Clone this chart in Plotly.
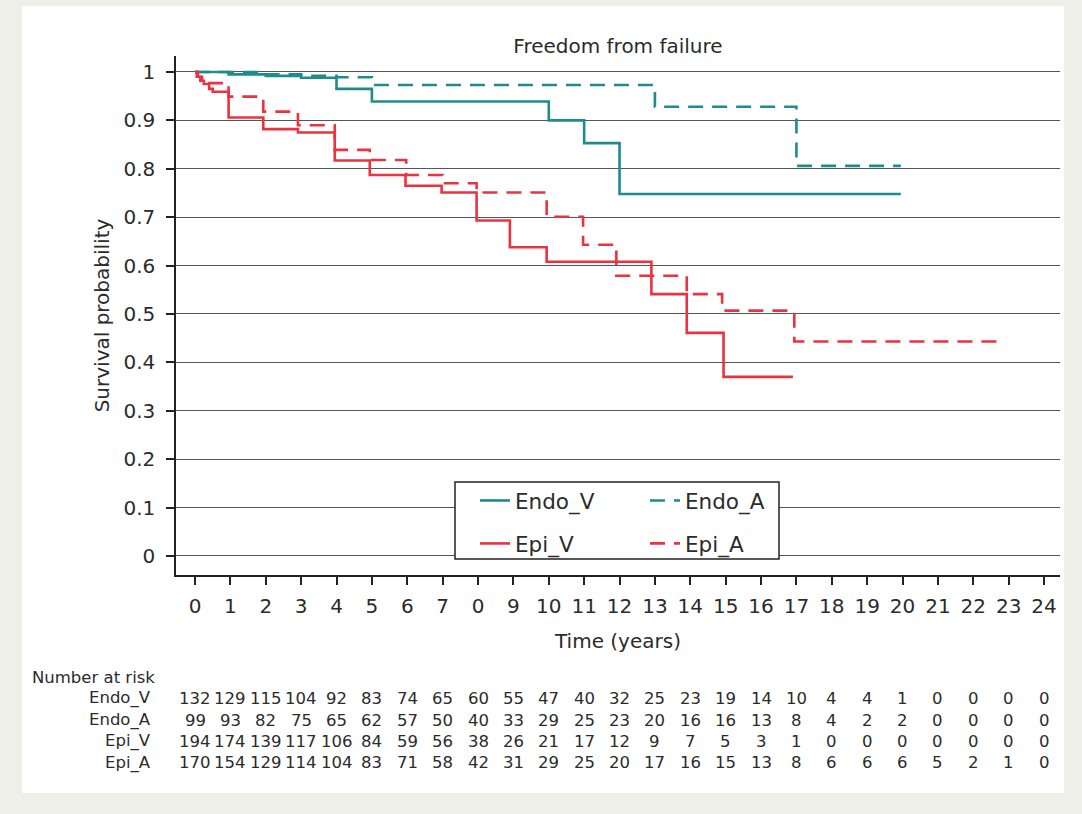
import plotly.graph_objects as go

# ---------------- data ----------------
endo_v_t = [0, 0.95, 2.0, 3.0, 4.0, 5.0, 10.0, 11.0, 12.0, 19.95]
endo_v_s = [1.0, 0.995, 0.992, 0.988, 0.965, 0.939, 0.900, 0.853, 0.748, 0.748]

endo_a_t = [0, 2.0, 3.0, 4.0, 5.0, 13.0, 17.0, 19.95]
endo_a_s = [1.0, 0.995, 0.992, 0.989, 0.973, 0.928, 0.806, 0.806]

epi_v_t = [0, 0.05, 0.15, 0.25, 0.4, 0.5, 0.95, 1.93, 2.91, 3.95, 4.94, 5.95,
           6.97, 7.96, 8.9, 9.94, 12.9, 13.9, 14.94, 16.9]
epi_v_s = [1.0, 0.99, 0.982, 0.975, 0.965, 0.959, 0.906, 0.882, 0.875, 0.817,
           0.787, 0.765, 0.751, 0.693, 0.638, 0.608, 0.541, 0.461, 0.370, 0.370]

epi_a_t = [0, 0.08, 0.2, 0.95, 1.93, 2.91, 3.95, 4.94, 5.97, 7.0, 7.96, 9.94,
           10.97, 11.91, 13.9, 14.9, 16.94, 22.75]
epi_a_s = [1.0, 0.99, 0.977, 0.949, 0.918, 0.890, 0.839, 0.818, 0.787, 0.770,
           0.751, 0.701, 0.643, 0.579, 0.541, 0.507, 0.443, 0.443]

x_tick_vals = list(range(25))
x_tick_labels = ["0", "1", "2", "3", "4", "5", "6", "7", "0", "9", "10", "11", "12",
                 "13", "14", "15", "16", "17", "18", "19", "20", "21", "22", "23", "24"]
y_tick_vals = [0, 0.1, 0.2, 0.3, 0.4, 0.5, 0.6, 0.7, 0.8, 0.9, 1.0]
y_tick_labels = ["0", "0.1", "0.2", "0.3", "0.4", "0.5", "0.6", "0.7", "0.8", "0.9", "1"]

risk_groups = ["Endo_V", "Endo_A", "Epi_V", "Epi_A"]
risk_endo_v = [132, 129, 115, 104, 92, 83, 74, 65, 60, 55, 47, 40, 32, 25, 23, 19, 14, 10, 4, 4, 1, 0, 0, 0, 0]
risk_endo_a = [99, 93, 82, 75, 65, 62, 57, 50, 40, 33, 29, 25, 23, 20, 16, 16, 13, 8, 4, 2, 2, 0, 0, 0, 0]
risk_epi_v = [194, 174, 139, 117, 106, 84, 59, 56, 38, 26, 21, 17, 12, 9, 7, 5, 3, 1, 0, 0, 0, 0, 0, 0, 0]
risk_epi_a = [170, 154, 129, 114, 104, 83, 71, 58, 42, 31, 29, 25, 20, 17, 16, 15, 13, 8, 6, 6, 6, 5, 2, 1, 0]

# ---------------- styling ----------------
TEAL = "#1f8c8c"
RED = "#ea3340"
FONT = "DejaVu Sans"
TXT = "#2b2b2b"

W, H = 1082, 814
L, R, T, B = 176, 22, 56, 239
PW, PH = W - L - R, H - T - B


def px_to_paper_x(px):
    return (px - L) / PW


def px_to_paper_y(py):
    return (H - B - py) / PH


fig = go.Figure()

fig.add_trace(go.Scatter(x=endo_v_t, y=endo_v_s, mode="lines", name="Endo_V",
                         line=dict(color=TEAL, width=2.6, shape="hv"),
                         legend="legend", legendgroup="g1"))
fig.add_trace(go.Scatter(x=epi_v_t, y=epi_v_s, mode="lines", name="Epi_V",
                         line=dict(color=RED, width=2.6, shape="hv"),
                         legend="legend", legendgroup="g2"))
fig.add_trace(go.Scatter(x=endo_a_t, y=endo_a_s, mode="lines", name="Endo_A",
                         line=dict(color=TEAL, width=2.6, shape="hv", dash="15px,9px"),
                         legend="legend2", legendgroup="g3"))
fig.add_trace(go.Scatter(x=epi_a_t, y=epi_a_s, mode="lines", name="Epi_A",
                         line=dict(color=RED, width=2.6, shape="hv", dash="15px,9px"),
                         legend="legend2", legendgroup="g4"))

# number-at-risk table
row_y = [698, 720, 741, 762.5]
risk_rows = [risk_endo_v, risk_endo_a, risk_epi_v, risk_epi_a]
annotations = []
annotations.append(dict(text="Number at risk", x=px_to_paper_x(30), y=px_to_paper_y(677),
                        xref="paper", yref="paper", xanchor="left", yanchor="middle",
                        showarrow=False, font=dict(family=FONT, size=16.5, color=TXT)))
for name, vals, ry in zip(risk_groups, risk_rows, row_y):
    annotations.append(dict(text=name, x=px_to_paper_x(153), y=px_to_paper_y(ry),
                            xref="paper", yref="paper", xanchor="right", yanchor="middle",
                            showarrow=False, font=dict(family=FONT, size=16.5, color=TXT)))
    for t, v in zip(x_tick_vals, vals):
        annotations.append(dict(text=str(v), x=t, y=px_to_paper_y(ry),
                                xref="x", yref="paper", xanchor="center", yanchor="middle",
                                showarrow=False, font=dict(family=FONT, size=16.5, color=TXT)))

shapes = [
    # white page panel on light frame
    dict(type="rect", xref="paper", yref="paper", layer="below",
         x0=px_to_paper_x(22), x1=px_to_paper_x(1064),
         y0=px_to_paper_y(793), y1=px_to_paper_y(6),
         fillcolor="white", line=dict(width=0)),
    # legend box
    dict(type="rect", xref="paper", yref="paper", layer="above",
         x0=px_to_paper_x(455), x1=px_to_paper_x(779),
         y0=px_to_paper_y(559), y1=px_to_paper_y(482),
         fillcolor="white", line=dict(color="#222222", width=1.5)),
]

fig.update_layout(
    width=W, height=H,
    margin=dict(l=L, r=R, t=T, b=B, autoexpand=False),
    paper_bgcolor="#efefe9",
    plot_bgcolor="white",
    font=dict(family=FONT, size=20, color=TXT),
    title=dict(text="Freedom from failure", x=0.5, xref="paper", xanchor="center",
               y=1 - 46 / H, yanchor="middle", yref="container",
               font=dict(family=FONT, size=20, color=TXT)),
    xaxis=dict(range=[-0.537, 24.45], tickmode="array", tickvals=x_tick_vals,
               ticktext=x_tick_labels, ticks="outside", ticklen=8, tickwidth=1.5,
               tickcolor="#222222", showline=True, linecolor="#222222", linewidth=1.5,
               showgrid=False, zeroline=False, ticklabelstandoff=4,
               tickfont=dict(family=FONT, size=20, color=TXT),
               title=dict(text="Time (years)", standoff=17,
                          font=dict(family=FONT, size=20, color=TXT))),
    yaxis=dict(range=[-0.0393, 1.033], tickmode="array", tickvals=y_tick_vals,
               ticktext=y_tick_labels, ticks="outside", ticklen=8, tickwidth=1.5,
               tickcolor="#222222", showline=True, linecolor="#222222", linewidth=1.5,
               showgrid=True, gridcolor="#555555", gridwidth=1.4, zeroline=False,
               ticklabelstandoff=7,
               tickfont=dict(family=FONT, size=20, color=TXT),
               title=dict(text="Survival probability", standoff=8,
                          font=dict(family=FONT, size=20, color=TXT))),
    legend=dict(x=px_to_paper_x(475), y=px_to_paper_y(480), xanchor="left", yanchor="top",
                bgcolor="rgba(0,0,0,0)", borderwidth=0, traceorder="grouped",
                tracegroupgap=12, font=dict(family=FONT, size=21.5, color=TXT)),
    legend2=dict(x=px_to_paper_x(645), y=px_to_paper_y(480), xanchor="left", yanchor="top",
                 bgcolor="rgba(0,0,0,0)", borderwidth=0, traceorder="grouped",
                 tracegroupgap=12, font=dict(family=FONT, size=21.5, color=TXT)),
    annotations=annotations,
    shapes=shapes,
)

fig.write_html("out.html", config={"displayModeBar": False},
               post_script="document.body.style.margin='0px';")
